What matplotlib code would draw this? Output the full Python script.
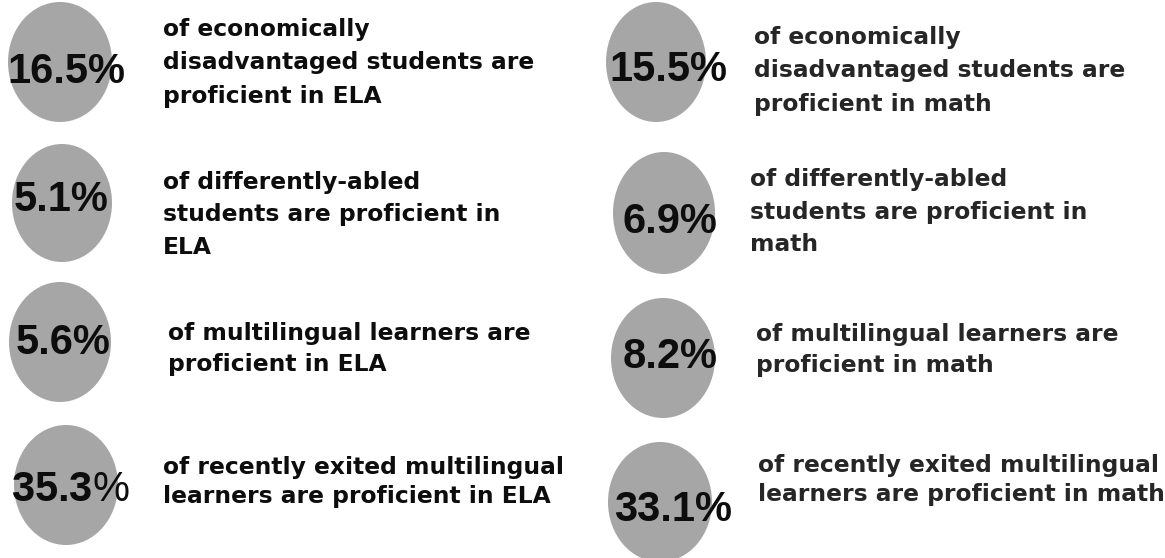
import matplotlib
matplotlib.use("Agg")
import matplotlib.pyplot as plt
from matplotlib.patches import Ellipse

plt.rcParams["mathtext.fontset"] = "custom"
plt.rcParams["mathtext.rm"] = "Liberation Sans"

# values shown in the circles
pctLeft = ["16.5%", "5.1%", "5.6%", r"35.3$\mathrm{\%}$"]
pctRight = ["15.5%", "6.9%", "8.2%", "33.1%"]

descLeft = [
    "of economically\ndisadvantaged students are\nproficient in ELA",
    "of differently-abled\nstudents are proficient in\nELA",
    "of multilingual learners are\nproficient in ELA",
    "of recently exited multilingual\nlearners are proficient in ELA",
]
descRight = [
    "of economically\ndisadvantaged students are\nproficient in math",
    "of differently-abled\nstudents are proficient in\nmath",
    "of multilingual learners are\nproficient in math",
    "of recently exited multilingual\nlearners are proficient in math",
]

# layout (pixels, y from top)
circLeft = [(60, 62, 104, 120), (62, 203, 100, 118), (60, 342, 102, 120), (66, 485, 104, 120)]
circRight = [(656, 62, 100, 120), (664, 213, 102, 122), (663, 358, 104, 120), (660, 502, 104, 120)]
numLeft = [(66, 72), (61, 200), (63, 343), (70, 490)]
numRight = [(668, 70), (670, 222), (670, 357), (673, 510)]
txtLeft = [(163, 63), (163, 215), (168, 349), (163, 482)]
txtRight = [(754, 71), (750, 212), (756, 350), (758, 480)]
spacing = [1.57, 1.52, 1.43, 1.3]

fig = plt.figure(figsize=(11.65, 5.58), dpi=100)
ax = fig.add_axes([0, 0, 1, 1])
ax.set_xlim(0, 1165)
ax.set_ylim(558, 0)
ax.axis("off")

def drawCol(pcts, descs, circs, nums, txts, txtColor):
    for p, d, c, n, t, ls in zip(pcts, descs, circs, nums, txts, spacing):
        ax.add_patch(Ellipse((c[0], c[1]), c[2], c[3], color="#a6a6a6", lw=0))
        ax.text(n[0], n[1], p, ha="center", va="center", fontsize=30,
                fontweight="bold", family="Liberation Sans", color="#0d0d0d")
        ax.text(t[0], t[1], d, ha="left", va="center", fontsize=16.8,
                fontweight="bold", family="DejaVu Sans", color=txtColor,
                linespacing=ls)

drawCol(pctLeft, descLeft, circLeft, numLeft, txtLeft, "#0d0d0d")
drawCol(pctRight, descRight, circRight, numRight, txtRight, "#262626")

fig.savefig("out.png", dpi=100)
